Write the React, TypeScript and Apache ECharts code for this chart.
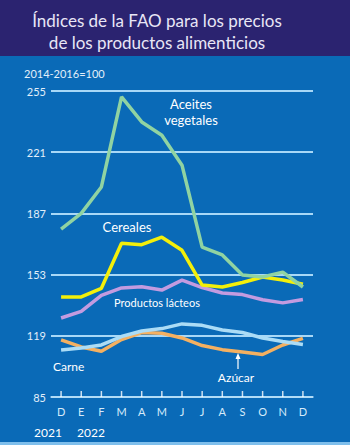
import React, { useEffect, useRef } from "react";
import * as echarts from "echarts";

const months = ["D", "E", "F", "M", "A", "M", "J", "J", "A", "S", "O", "N", "D"];
const yTicks = [85, 119, 153, 187, 221, 255];
const aceites = [178.3, 187.0, 201.7, 251.7, 237.8, 230.4, 213.8, 168.3, 163.9, 152.8, 151.7, 154.4, 146.1];
const cereales = [140.6, 140.6, 145.4, 170.4, 169.6, 173.8, 166.5, 147.2, 146.1, 148.6, 151.7, 150.0, 147.6];
const lacteos = [128.9, 132.6, 141.5, 145.6, 146.3, 144.4, 149.9, 145.8, 142.8, 141.9, 139.0, 137.3, 139.2];
const carne = [111.1, 112.2, 113.9, 118.6, 121.7, 123.0, 125.6, 124.8, 122.2, 120.8, 117.8, 115.8, 114.2];
const azucar = [116.7, 112.8, 110.4, 116.9, 120.8, 120.4, 117.8, 113.6, 111.3, 110.0, 108.6, 113.9, 117.6];
const years = ["2021", "2022"];

const FONT = "Lato, 'Open Sans', sans-serif";

export default function App() {
  const ref = useRef<HTMLDivElement>(null);
  useEffect(() => {
    document.body.style.margin = "0";
    const chart = echarts.init(ref.current!, null, { renderer: "svg" });
    const line = (name: string, data: number[], color: string) => ({
      name,
      type: "line",
      data,
      symbol: "none",
      lineStyle: { color, width: 3.5 },
      itemStyle: { color },
      z: 3,
    });
    const tickMarks = months.map(() => yTicks[0]);
    chart.setOption({
      animation: false,
      backgroundColor: "#0a6ab7",
      textStyle: { fontFamily: FONT },
      grid: { left: 51, top: 91, width: 262, height: 306, containLabel: false },
      xAxis: {
        type: "category",
        data: months,
        boundaryGap: true,
        axisLine: { show: true, lineStyle: { color: "#b4ddf7", width: 1.5 } },
        axisTick: { show: false },
        axisLabel: { color: "#d6ebfa", fontSize: 11, margin: 9, fontFamily: FONT, interval: 0 },
      },
      yAxis: {
        type: "value",
        min: yTicks[0],
        max: yTicks[yTicks.length - 1],
        interval: yTicks[1] - yTicks[0],
        axisLine: { show: false },
        axisTick: { show: false },
        axisLabel: { color: "#e2effa", fontSize: 11, margin: 5, fontFamily: FONT },
        splitLine: { lineStyle: { color: "#a8d8f7", width: 2 } },
      },
      series: [
        {
          name: "ticks",
          type: "scatter",
          data: tickMarks,
          symbol: "rect",
          symbolSize: [1.5, 6],
          symbolOffset: [0, -3],
          itemStyle: { color: "#ffffff" },
          silent: true,
          clip: false,
          z: 4,
        },
        line("Azúcar", azucar, "#f4b061"),
        line("Carne", carne, "#abdcf6"),
        line("Productos lácteos", lacteos, "#c39be0"),
        line("Cereales", cereales, "#f3ef0a"),
        line("Aceites vegetales", aceites, "#90d3a2"),
      ],
      graphic: [
        { type: "rect", shape: { x: 0, y: 0, width: 350, height: 56 }, style: { fill: "#2b2370" }, z: -1 },
        { type: "rect", shape: { x: 0, y: 442, width: 350, height: 3 }, style: { fill: "#7fbfec" }, z: -1 },
        {
          type: "text", x: 157, y: 20,
          style: { text: "Índices de la FAO para los precios", fill: "#e8e6f6", font: `17px ${FONT}`, align: "center", verticalAlign: "middle" },
        },
        {
          type: "text", x: 157, y: 42,
          style: { text: "de los productos alimenticios", fill: "#e8e6f6", font: `17px ${FONT}`, align: "center", verticalAlign: "middle" },
        },
        {
          type: "text", x: 24, y: 73,
          style: { text: "2014-2016=100", fill: "#e2effa", font: `11px ${FONT}`, align: "left", verticalAlign: "middle" },
        },
        {
          type: "text", x: 191, y: 104,
          style: { text: "Aceites", fill: "#ffffff", font: `13px ${FONT}`, align: "center", verticalAlign: "middle" },
        },
        {
          type: "text", x: 191, y: 120,
          style: { text: "vegetales", fill: "#ffffff", font: `13px ${FONT}`, align: "center", verticalAlign: "middle" },
        },
        {
          type: "text", x: 127, y: 227,
          style: { text: "Cereales", fill: "#ffffff", font: `13px ${FONT}`, align: "center", verticalAlign: "middle" },
        },
        {
          type: "text", x: 157, y: 302,
          style: { text: "Productos lácteos", fill: "#ffffff", font: `11px ${FONT}`, align: "center", verticalAlign: "middle" },
        },
        {
          type: "text", x: 53, y: 366,
          style: { text: "Carne", fill: "#ffffff", font: `12px ${FONT}`, align: "left", verticalAlign: "middle" },
        },
        {
          type: "text", x: 236, y: 377,
          style: { text: "Azúcar", fill: "#ffffff", font: `12px ${FONT}`, align: "center", verticalAlign: "middle" },
        },
        { type: "line", shape: { x1: 238, y1: 369, x2: 238, y2: 356 }, style: { stroke: "#ffffff", lineWidth: 1.2 } },
        { type: "polygon", shape: { points: [[238, 353], [235.5, 359], [240.5, 359]] }, style: { fill: "#ffffff" } },
        {
          type: "text", x: 48, y: 432,
          style: { text: years[0], fill: "#ffffff", font: `12px ${FONT}`, align: "center", verticalAlign: "middle" },
        },
        {
          type: "text", x: 91, y: 432,
          style: { text: years[1], fill: "#ffffff", font: `12px ${FONT}`, align: "center", verticalAlign: "middle" },
        },
      ],
    });
    return () => chart.dispose();
  }, []);
  return <div ref={ref} style={{ position: "absolute", left: 0, top: 0, width: 350, height: 445 }} />;
}
